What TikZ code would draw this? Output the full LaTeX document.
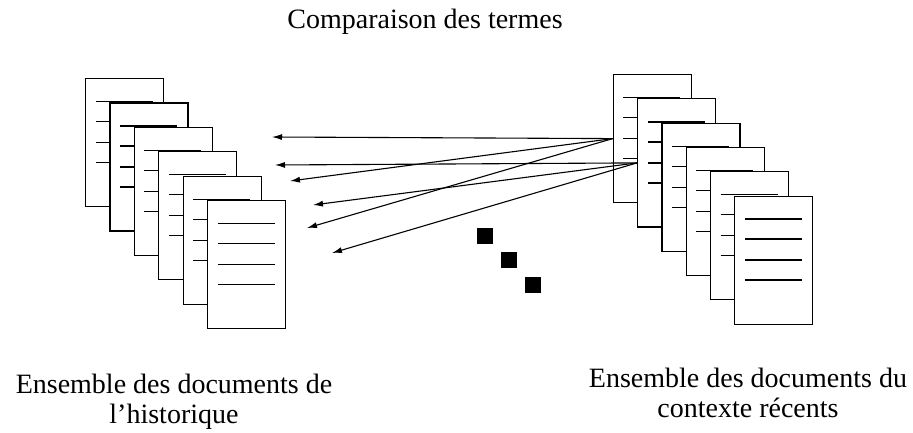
\documentclass[tikz,border=0pt]{standalone}
\usepackage{fontspec}
\setmainfont{Liberation Serif}
\usetikzlibrary{arrows.meta}
\tikzset{
  page/.style={draw, fill=white, line width=1.2pt, anchor=north west,
    minimum width=78pt, minimum height=128pt, inner sep=0pt,
    path picture={
      \foreach \dy in {23,43,64,84}
        \draw[line width=1.3pt] ([shift={(10pt,-\dy pt)}]path picture bounding box.north west) -- ++(57pt,0pt);
    }},
  link/.style={line width=1.1pt, -{Latex[length=10pt,width=6pt]}},
  dot/.style={fill=black, minimum size=16pt, inner sep=0pt},
  bigtext/.style={anchor=base, inner sep=0pt, align=center,
    font=\fontsize{28pt}{30pt}\selectfont}
}
\begin{document}
\begin{tikzpicture}
\useasboundingbox (0pt,0pt) rectangle (913pt,-433pt);
% titre
\node[bigtext] (title) at (425pt,-29pt) {Comparaison des termes};
% historique
\node[page] (l1) at (85pt,-78pt) {};
\node[page] (l2) at (109.4pt,-102.4pt) {};
\node[page] (l3) at (133.8pt,-126.8pt) {};
\node[page] (l4) at (158.2pt,-151.2pt) {};
\node[page] (l5) at (182.6pt,-175.6pt) {};
\node[page] (l6) at (207pt,-200pt) {};
% contexte
\node[page] (r1) at (612.7pt,-74pt) {};
\node[page] (r2) at (637pt,-98.3pt) {};
\node[page] (r3) at (661.3pt,-122.6pt) {};
\node[page] (r4) at (685.6pt,-146.9pt) {};
\node[page] (r5) at (709.9pt,-171.2pt) {};
\node[page] (r6) at (734.2pt,-195.5pt) {};
% fleches
\coordinate (h1) at (272pt,-137pt);
\coordinate (h2) at (275pt,-165pt);
\coordinate (h3) at (290pt,-181pt);
\coordinate (h4) at (313pt,-205pt);
\coordinate (h5) at (307pt,-228pt);
\coordinate (h6) at (332pt,-253pt);
\draw[link] (r1.west) -- (h1);
\draw[link] (r2.west) -- (h2);
\draw[link] (r1.west) -- (h3);
\draw[link] (r2.west) -- (h4);
\draw[link] (r1.west) -- (h5);
\draw[link] (r2.west) -- (h6);
% points
\node[dot] (d1) at (485pt,-236pt) {};
\node[dot] (d2) at (509pt,-260pt) {};
\node[dot] (d3) at (533pt,-285pt) {};
% legendes
\node[bigtext] (lhist) at (174pt,-423pt) {Ensemble des documents de\\l'historique};
\node[bigtext] (lctx) at (748pt,-417pt) {Ensemble des documents du\\contexte récents};
\end{tikzpicture}
\end{document}
